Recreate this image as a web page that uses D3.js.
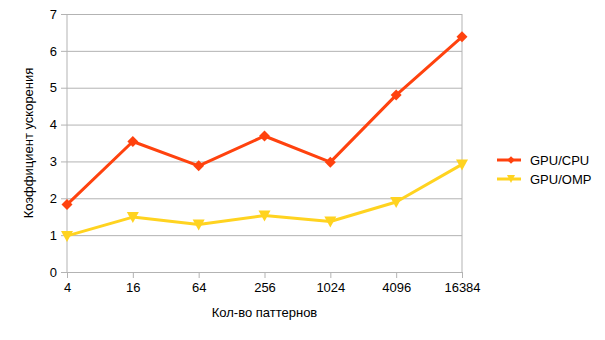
<!DOCTYPE html>
<html>
<head>
<meta charset="utf-8">
<script src="https://cdn.jsdelivr.net/npm/d3@7"></script>
<style>
  body { margin: 0; background: #fff; }
  text { font-family: "Liberation Sans", Arial, sans-serif; font-size: 13px; fill: #000; }
</style>
</head>
<body>
<div id="chart"></div>
<script>
// data
const categories = ["4", "16", "64", "256", "1024", "4096", "16384"];
const gpuCpu = [1.83, 3.54, 2.88, 3.69, 2.98, 4.8, 6.38];
const gpuOmp = [0.98, 1.49, 1.29, 1.53, 1.37, 1.9, 2.92];
const yTicks = [0, 1, 2, 3, 4, 5, 6, 7];
const seriesNames = ["GPU/CPU", "GPU/OMP"];
const colors = ["#ff420e", "#ffd320"];

const W = 605, H = 340;
const margin = { top: 14, left: 67, right: 143, bottom: 68 };
const width = W - margin.left - margin.right;
const height = H - margin.top - margin.bottom;

const svg = d3.select("#chart")
  .append("svg")
    .attr("width", W)
    .attr("height", H);

const g = svg.append("g")
  .attr("transform", `translate(${margin.left},${margin.top})`);

const x = d3.scalePoint().domain(categories).range([0, width]);
const y = d3.scaleLinear().domain([0, 7]).range([height, 0]);

// grid + y axis
const yAxis = g.append("g")
  .call(d3.axisLeft(y).tickValues(yTicks).tickFormat(d3.format("d")).tickSizeOuter(0).tickPadding(4));
yAxis.select(".domain").remove();
yAxis.selectAll(".tick line").attr("stroke", "#b3b3b3").attr("x1", -6).attr("x2", width);
yAxis.selectAll(".tick text").attr("x", -10).style("font-size", "13px").style("font-family", "Liberation Sans, Arial, sans-serif");

// vertical left / right borders
g.append("line").attr("x1", 0).attr("x2", 0).attr("y1", 0).attr("y2", height).attr("stroke", "#b3b3b3");
g.append("line").attr("x1", width).attr("x2", width).attr("y1", 0).attr("y2", height).attr("stroke", "#b3b3b3");

// x axis
const xAxis = g.append("g")
  .attr("transform", `translate(0,${height})`)
  .call(d3.axisBottom(x).tickSize(6).tickSizeOuter(0).tickPadding(5));
xAxis.select(".domain").attr("stroke", "#b3b3b3");
xAxis.selectAll(".tick line").attr("stroke", "#b3b3b3");
xAxis.selectAll(".tick text").style("font-size", "13px").style("font-family", "Liberation Sans, Arial, sans-serif");

const line = d3.line().x((d, i) => x(categories[i])).y(d => y(d));

const triDown = "M-6,-5L6,-5L0,6Z";

[gpuCpu, gpuOmp].forEach((vals, s) => {
  g.append("path")
    .datum(vals)
    .attr("fill", "none")
    .attr("stroke", colors[s])
    .attr("stroke-width", 3)
    .attr("stroke-linejoin", "round")
    .attr("d", line);
  g.selectAll(null)
    .data(vals)
    .join("path")
      .attr("d", s === 0 ? d3.symbol().type(d3.symbolSquare).size(60)() : triDown)
      .attr("transform", (d, i) => `translate(${x(categories[i])},${y(d)})` + (s === 0 ? " rotate(45)" : ""))
      .attr("fill", colors[s]);
});

// axis titles
svg.append("text")
  .attr("x", margin.left + width / 2)
  .attr("y", 317)
  .attr("text-anchor", "middle")
  .text("Кол-во паттернов");

svg.append("text")
  .attr("transform", `translate(33,${margin.top + height / 2}) rotate(-90)`)
  .attr("text-anchor", "middle")
  .text("Коэффициент ускорения");

// legend
const legend = svg.append("g").attr("transform", "translate(497,160)");
seriesNames.forEach((name, i) => {
  const row = legend.append("g").attr("transform", `translate(0,${i * 19})`);
  row.append("line").attr("x1", 0).attr("x2", 24).attr("y1", 0).attr("y2", 0)
    .attr("stroke", colors[i]).attr("stroke-width", 3);
  row.append("path")
    .attr("d", i === 0 ? d3.symbol().type(d3.symbolSquare).size(30)() : "M-4,-4L4,-4L0,4Z")
    .attr("transform", i === 0 ? "translate(14,0) rotate(45)" : "translate(14,0)")
    .attr("fill", colors[i]);
  row.append("text").attr("x", 33).attr("y", 5).text(name);
});
</script>
</body>
</html>
